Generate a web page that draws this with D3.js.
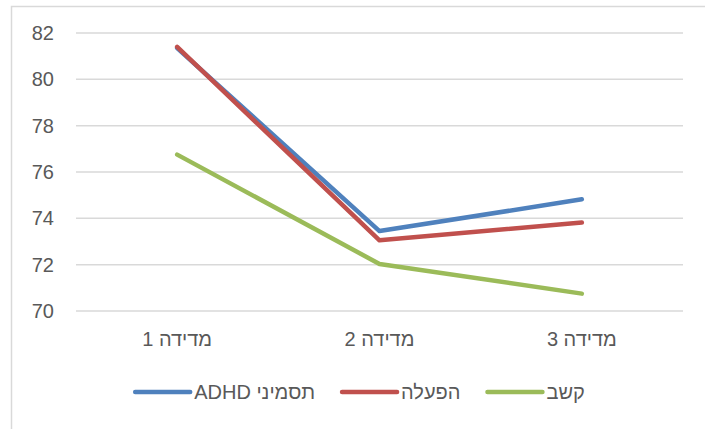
<!DOCTYPE html>
<html>
<head>
<meta charset="utf-8">
<script src="https://cdn.jsdelivr.net/npm/d3@7"></script>
<style>
  body { margin: 0; background: #fff; }
  svg { display: block; font-family: "Liberation Sans", Arial, sans-serif; }
</style>
</head>
<body>
<svg width="705" height="429"></svg>
<script>
// data
const categories = ['מדידה 1', 'מדידה 2', 'מדידה 3'];
const seriesNames = ['תסמיני ADHD', 'הפעלה', 'קשב'];
const adhdValues = [81.35, 73.45, 74.82];
const activationValues = [81.4, 73.05, 73.82];
const attentionValues = [76.75, 72.03, 70.75];
const yTicks = [70, 72, 74, 76, 78, 80, 82];
const colors = ['#4f81bd', '#c0504d', '#9bbb59'];

const series = [adhdValues, activationValues, attentionValues].map((values, i) => ({
  name: seriesNames[i],
  color: colors[i],
  values: values.map((v, j) => ({ cat: categories[j], v }))
}));

const svg = d3.select('svg');
const width = +svg.attr('width');
const fontSize = '20px';

// chart frame
svg.append('rect')
  .attr('x', 11.5).attr('y', 6.5)
  .attr('width', width).attr('height', 440)
  .attr('fill', 'none').attr('stroke', '#d9d9d9').attr('stroke-width', 1.5);

const x = d3.scaleBand().domain(categories).range([76, 683]);
const y = d3.scaleLinear().domain([70, 82]).range([311, 33]);

// gridlines
svg.append('g')
  .selectAll('line')
  .data(yTicks)
  .enter().append('line')
  .attr('x1', 76).attr('x2', 683)
  .attr('y1', d => y(d)).attr('y2', d => y(d))
  .attr('stroke', '#d9d9d9').attr('stroke-width', 1.5);

// y axis labels
const yAxis = svg.append('g')
  .attr('transform', 'translate(54,0)')
  .call(d3.axisLeft(y).tickValues(yTicks).tickSize(0).tickPadding(0));
yAxis.select('.domain').remove();
yAxis.selectAll('text')
  .attr('fill', '#595959')
  .style('font-size', fontSize)
  .style('font-family', '"Liberation Sans", Arial, sans-serif');

// x axis labels
const xAxis = svg.append('g')
  .attr('transform', 'translate(0,332)')
  .call(d3.axisBottom(x).tickSize(0).tickPadding(0));
xAxis.select('.domain').remove();
xAxis.selectAll('text')
  .attr('fill', '#595959')
  .attr('direction', 'rtl')
  .attr('text-anchor', 'middle')
  .style('font-size', fontSize)
  .style('font-family', '"Liberation Sans", Arial, sans-serif');

// lines
const line = d3.line()
  .x(d => x(d.cat) + x.bandwidth() / 2)
  .y(d => y(d.v));

svg.append('g')
  .selectAll('path')
  .data(series)
  .enter().append('path')
  .attr('d', d => line(d.values))
  .attr('fill', 'none')
  .attr('stroke', d => d.color)
  .attr('stroke-width', 4.5)
  .attr('stroke-linecap', 'round')
  .attr('stroke-linejoin', 'round');

// legend
const legend = svg.append('g');
const legendY = 392;
const swatch = 55;
const items = legend.selectAll('g')
  .data(series)
  .enter().append('g');
items.append('line')
  .attr('x1', 0).attr('x2', swatch)
  .attr('y1', legendY).attr('y2', legendY)
  .attr('stroke', d => d.color)
  .attr('stroke-width', 4.5)
  .attr('stroke-linecap', 'round');
const labels = items.append('text')
  .attr('y', legendY)
  .attr('dy', '0.35em')
  .attr('direction', 'rtl')
  .attr('text-anchor', 'middle')
  .attr('fill', '#595959')
  .style('font-size', fontSize)
  .text(d => d.name);

const widths = [];
labels.each(function () { widths.push(this.getComputedTextLength()); });
const gap = 4, itemGap = 27;
const total = d3.sum(widths) + series.length * (swatch + gap) + itemGap * (series.length - 1);
let cx = 360 - total / 2;
items.each(function (d, i) {
  d3.select(this).attr('transform', `translate(${cx},0)`);
  d3.select(this).select('text').attr('x', swatch + gap + widths[i] / 2);
  cx += swatch + gap + widths[i] + itemGap;
});
</script>
</body>
</html>
